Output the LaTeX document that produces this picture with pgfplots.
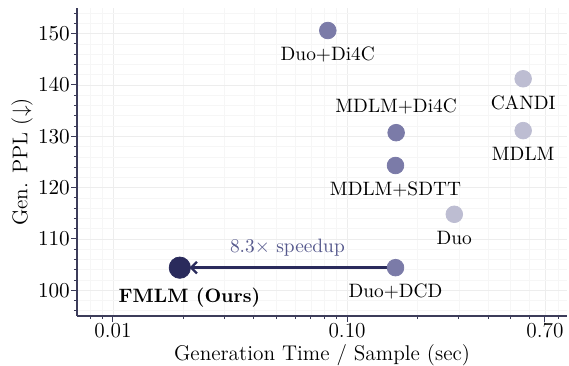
\documentclass[border=0pt]{standalone}
\usepackage{pgfplots}
\pgfplotsset{compat=1.18}
\usetikzlibrary{arrows.meta}
\definecolor{cmed}{RGB}{123,123,168}
\definecolor{clight}{RGB}{189,189,210}
\definecolor{cdark}{RGB}{42,43,92}
\definecolor{caxis}{RGB}{60,60,90}
\definecolor{ctext}{RGB}{85,88,140}
\begin{document}
\begin{tikzpicture}
\begin{axis}[
  scale only axis,
  width=253pt, height=159pt,
  xmode=log,
  xmin=0.00702, xmax=0.87,
  ymin=95, ymax=155,
  xtick={0.01,0.1,0.7},
  xticklabels={0.01,0.10,0.70},
  minor xtick={0.007,0.008,0.009,0.02,0.03,0.04,0.05,0.06,0.07,0.08,0.09,0.2,0.3,0.4,0.5,0.6,0.8},
  ytick={100,110,120,130,140,150},
  minor ytick={96,98,102,104,106,108,112,114,116,118,122,124,126,128,132,134,136,138,142,144,146,148,152,154},
  axis lines*=left,
  axis line style={caxis, line width=0.8pt, -},
  tick align=outside,
  tick style={caxis, line width=0.5pt},
  major tick length=3pt,
  minor tick length=1.6pt,
  grid=both,
  major grid style={gray!14, line width=0.4pt},
  minor grid style={gray!7, line width=0.3pt},
  tick label style={font=\fontsize{11}{13}\selectfont},
  xticklabel style={inner sep=0.6pt},
  yticklabel style={inner sep=0.5pt},
  label style={font=\fontsize{11}{13}\selectfont},
  xlabel={Generation Time / Sample (sec)},
  ylabel={Gen. PPL ($\downarrow$)},
  xlabel style={at={(axis description cs:0.5,0)}, anchor=base, inner sep=0pt, yshift=-23.2pt},
  ylabel style={at={(axis description cs:0,0.5)}, anchor=center, inner sep=0pt, yshift=28.4pt},
  clip=false,
]
% arrow
\addplot[cdark, line width=1.5pt, -{Straight Barb[length=3pt,width=6pt,line width=1.2pt]}, shorten >=5pt]
  coordinates {(0.161,104.4) (0.0193,104.4)};
% medium points
\addplot[only marks, mark=*, mark size=4.3pt, color=cmed, mark options={draw=none, fill=cmed}]
  coordinates {(0.0827,150.6)} node[anchor=north, inner sep=0pt, yshift=-8.3pt, black] {Duo+Di4C};
\addplot[only marks, mark=*, mark size=4.3pt, color=cmed, mark options={draw=none, fill=cmed}]
  coordinates {(0.162,130.7)} node[anchor=south, inner sep=0pt, yshift=9.5pt, black] {MDLM+Di4C};
\addplot[only marks, mark=*, mark size=4.3pt, color=cmed, mark options={draw=none, fill=cmed}]
  coordinates {(0.161,124.3)} node[anchor=north, inner sep=0pt, yshift=-8pt, black] {MDLM+SDTT};
\addplot[only marks, mark=*, mark size=4.3pt, color=cmed, mark options={draw=none, fill=cmed}]
  coordinates {(0.161,104.4)} node[anchor=north, inner sep=0pt, yshift=-8.3pt, black] {Duo+DCD};
% light points
\addplot[only marks, mark=*, mark size=4.3pt, color=clight, mark options={draw=none, fill=clight}]
  coordinates {(0.565,141.2)} node[anchor=north, inner sep=0pt, yshift=-8.6pt, black] {CANDI};
\addplot[only marks, mark=*, mark size=4.3pt, color=clight, mark options={draw=none, fill=clight}]
  coordinates {(0.565,131.1)} node[anchor=north, inner sep=0pt, yshift=-8.6pt, black] {MDLM};
\addplot[only marks, mark=*, mark size=4.3pt, color=clight, mark options={draw=none, fill=clight}]
  coordinates {(0.287,114.8)} node[anchor=north, inner sep=0pt, yshift=-8.6pt, black] {Duo};
% ours
\addplot[only marks, mark=*, mark size=5.5pt, color=cdark, mark options={draw=none, fill=cdark}]
  coordinates {(0.0193,104.4)} node[anchor=north, inner sep=0pt, yshift=-10.5pt, xshift=5pt, black] {\textbf{FMLM (Ours)}};
% speedup label
\addplot[draw=none, mark=none] coordinates {(0.0556,104.4)}
  node[anchor=south, inner sep=0pt, yshift=5.5pt, ctext] {8.3$\times$ speedup};
\end{axis}
\pgfresetboundingbox
\path ([xshift=-39.75pt,yshift=-25.8pt]current axis.south west) rectangle ([xshift=1pt,yshift=4.1pt]current axis.north east);
\end{tikzpicture}
\end{document}
